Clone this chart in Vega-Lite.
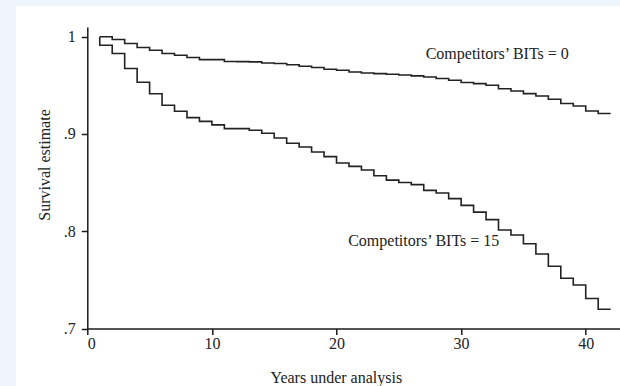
{
  "$schema": "https://vega.github.io/schema/vega-lite/v6.json",
  "autosize": {"type": "none"},
  "width": 532.7,
  "height": 301.5,
  "padding": {"left": 87.3, "top": 27, "right": 0, "bottom": 57.5},
  "background": "#eef3fc",
  "config": {
    "view": {"stroke": null},
    "font": "Liberation Serif",
    "axis": {"grid": false, "domainColor": "#1a1a1a", "tickColor": "#1a1a1a", "domainWidth": 1.5, "tickWidth": 1.5, "labelColor": "#222", "titleColor": "#222", "labelFont": "Liberation Serif", "titleFont": "Liberation Serif", "labelFontSize": 16, "titleFontSize": 16, "titleFontWeight": "normal", "tickSize": 6}
  },
  "datasets": {
    "curves": [
      {"series": "BITs0", "i": 1, "year": 1, "surv": 1.0},
      {"series": "BITs0", "i": 2, "year": 2, "surv": 0.9971},
      {"series": "BITs0", "i": 3, "year": 3, "surv": 0.9930},
      {"series": "BITs0", "i": 4, "year": 4, "surv": 0.9889},
      {"series": "BITs0", "i": 5, "year": 5, "surv": 0.9861},
      {"series": "BITs0", "i": 6, "year": 6, "surv": 0.9827},
      {"series": "BITs0", "i": 7, "year": 7, "surv": 0.9810},
      {"series": "BITs0", "i": 8, "year": 8, "surv": 0.9786},
      {"series": "BITs0", "i": 9, "year": 9, "surv": 0.9765},
      {"series": "BITs0", "i": 10, "year": 10, "surv": 0.9765},
      {"series": "BITs0", "i": 11, "year": 11, "surv": 0.9746},
      {"series": "BITs0", "i": 12, "year": 12, "surv": 0.9744},
      {"series": "BITs0", "i": 13, "year": 13, "surv": 0.9741},
      {"series": "BITs0", "i": 14, "year": 14, "surv": 0.9730},
      {"series": "BITs0", "i": 15, "year": 15, "surv": 0.9724},
      {"series": "BITs0", "i": 16, "year": 16, "surv": 0.9712},
      {"series": "BITs0", "i": 17, "year": 17, "surv": 0.9696},
      {"series": "BITs0", "i": 18, "year": 18, "surv": 0.9683},
      {"series": "BITs0", "i": 19, "year": 19, "surv": 0.9666},
      {"series": "BITs0", "i": 20, "year": 20, "surv": 0.9655},
      {"series": "BITs0", "i": 21, "year": 21, "surv": 0.9638},
      {"series": "BITs0", "i": 22, "year": 22, "surv": 0.9627},
      {"series": "BITs0", "i": 23, "year": 23, "surv": 0.9621},
      {"series": "BITs0", "i": 24, "year": 24, "surv": 0.9614},
      {"series": "BITs0", "i": 25, "year": 25, "surv": 0.9606},
      {"series": "BITs0", "i": 26, "year": 26, "surv": 0.9597},
      {"series": "BITs0", "i": 27, "year": 27, "surv": 0.9586},
      {"series": "BITs0", "i": 28, "year": 28, "surv": 0.9570},
      {"series": "BITs0", "i": 29, "year": 29, "surv": 0.9552},
      {"series": "BITs0", "i": 30, "year": 30, "surv": 0.9529},
      {"series": "BITs0", "i": 31, "year": 31, "surv": 0.9518},
      {"series": "BITs0", "i": 32, "year": 32, "surv": 0.9501},
      {"series": "BITs0", "i": 33, "year": 33, "surv": 0.9465},
      {"series": "BITs0", "i": 34, "year": 34, "surv": 0.9442},
      {"series": "BITs0", "i": 35, "year": 35, "surv": 0.9415},
      {"series": "BITs0", "i": 36, "year": 36, "surv": 0.9391},
      {"series": "BITs0", "i": 37, "year": 37, "surv": 0.9357},
      {"series": "BITs0", "i": 38, "year": 38, "surv": 0.9313},
      {"series": "BITs0", "i": 39, "year": 39, "surv": 0.9288},
      {"series": "BITs0", "i": 40, "year": 40, "surv": 0.9236},
      {"series": "BITs0", "i": 41, "year": 41, "surv": 0.9210},
      {"series": "BITs0", "i": 42, "year": 42, "surv": 0.9210},
      {"series": "BITs15", "i": 0, "year": 1, "surv": 1.0},
      {"series": "BITs15", "i": 1, "year": 1, "surv": 0.9913},
      {"series": "BITs15", "i": 2, "year": 2, "surv": 0.9827},
      {"series": "BITs15", "i": 3, "year": 3, "surv": 0.9673},
      {"series": "BITs15", "i": 4, "year": 4, "surv": 0.9532},
      {"series": "BITs15", "i": 5, "year": 5, "surv": 0.9413},
      {"series": "BITs15", "i": 6, "year": 6, "surv": 0.9295},
      {"series": "BITs15", "i": 7, "year": 7, "surv": 0.9233},
      {"series": "BITs15", "i": 8, "year": 8, "surv": 0.9168},
      {"series": "BITs15", "i": 9, "year": 9, "surv": 0.9130},
      {"series": "BITs15", "i": 10, "year": 10, "surv": 0.9094},
      {"series": "BITs15", "i": 11, "year": 11, "surv": 0.9055},
      {"series": "BITs15", "i": 12, "year": 12, "surv": 0.9055},
      {"series": "BITs15", "i": 13, "year": 13, "surv": 0.9038},
      {"series": "BITs15", "i": 14, "year": 14, "surv": 0.9007},
      {"series": "BITs15", "i": 15, "year": 15, "surv": 0.8959},
      {"series": "BITs15", "i": 16, "year": 16, "surv": 0.8904},
      {"series": "BITs15", "i": 17, "year": 17, "surv": 0.8866},
      {"series": "BITs15", "i": 18, "year": 18, "surv": 0.8814},
      {"series": "BITs15", "i": 19, "year": 19, "surv": 0.8767},
      {"series": "BITs15", "i": 20, "year": 20, "surv": 0.8701},
      {"series": "BITs15", "i": 21, "year": 21, "surv": 0.8667},
      {"series": "BITs15", "i": 22, "year": 22, "surv": 0.8629},
      {"series": "BITs15", "i": 23, "year": 23, "surv": 0.8570},
      {"series": "BITs15", "i": 24, "year": 24, "surv": 0.8526},
      {"series": "BITs15", "i": 25, "year": 25, "surv": 0.8501},
      {"series": "BITs15", "i": 26, "year": 26, "surv": 0.8479},
      {"series": "BITs15", "i": 27, "year": 27, "surv": 0.8420},
      {"series": "BITs15", "i": 28, "year": 28, "surv": 0.8393},
      {"series": "BITs15", "i": 29, "year": 29, "surv": 0.8335},
      {"series": "BITs15", "i": 30, "year": 30, "surv": 0.8266},
      {"series": "BITs15", "i": 31, "year": 31, "surv": 0.8197},
      {"series": "BITs15", "i": 32, "year": 32, "surv": 0.8119},
      {"series": "BITs15", "i": 33, "year": 33, "surv": 0.8013},
      {"series": "BITs15", "i": 34, "year": 34, "surv": 0.7962},
      {"series": "BITs15", "i": 35, "year": 35, "surv": 0.7872},
      {"series": "BITs15", "i": 36, "year": 36, "surv": 0.7766},
      {"series": "BITs15", "i": 37, "year": 37, "surv": 0.7640},
      {"series": "BITs15", "i": 38, "year": 38, "surv": 0.7517},
      {"series": "BITs15", "i": 39, "year": 39, "surv": 0.7447},
      {"series": "BITs15", "i": 40, "year": 40, "surv": 0.7309},
      {"series": "BITs15", "i": 41, "year": 41, "surv": 0.7198},
      {"series": "BITs15", "i": 42, "year": 42, "surv": 0.7198}
    ],
    "labels": [
      {"year": 32.9, "surv": 0.9827, "label": "Competitors’ BITs = 0"},
      {"year": 27.0, "surv": 0.7899, "label": "Competitors’ BITs = 15"}
    ]
  },
  "layer": [
    {
      "data": {"values": [{}]},
      "mark": {"type": "rect", "fill": "white", "clip": false},
      "encoding": {
        "x": {"datum": -5.72, "type": "quantitative", "scale": {"domain": [0, 42.75], "nice": false, "zero": false}, "axis": {"zindex": 1, "values": [0, 10, 20, 30, 40], "title": "Years under analysis", "labelPadding": 1, "titleX": 248.5, "titleY": 54, "titleBaseline": "alphabetic", "titleAnchor": null, "titleAlign": "center"}},
        "x2": {"datum": 44},
        "y": {"datum": 0.64, "type": "quantitative", "scale": {"domain": [0.7, 1.01], "nice": false, "zero": false}, "axis": {"zindex": 1, "values": [0.7, 0.8, 0.9, 1.0], "labelExpr": "datum.value == 1 ? '1' : replace(format(datum.value, '.1f'), '0.', '.')", "labelPadding": 6, "title": "Survival estimate", "titleX": -43, "titleY": 137.5, "titleAngle": 270, "titleBaseline": "middle", "titleAlign": "center", "titleAnchor": null}},
        "y2": {"datum": 1.0316}
      }
    },
    {
      "data": {"name": "curves"},
      "mark": {"type": "line", "interpolate": "step-after", "strokeWidth": 1.6, "color": "#222"},
      "encoding": {
        "x": {"field": "year", "type": "quantitative"},
        "y": {"field": "surv", "type": "quantitative"},
        "detail": {"field": "series"},
        "order": {"field": "i"}
      }
    },
    {
      "data": {"name": "labels"},
      "mark": {"type": "text", "font": "Liberation Serif", "fontSize": 16, "color": "#222", "align": "center", "baseline": "middle"},
      "encoding": {
        "x": {"field": "year", "type": "quantitative"},
        "y": {"field": "surv", "type": "quantitative"},
        "text": {"field": "label"}
      }
    }
  ]
}
